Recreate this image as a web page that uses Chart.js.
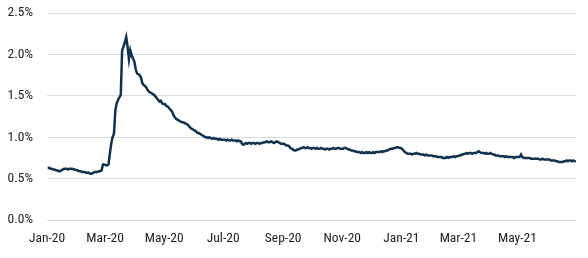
<!DOCTYPE html>
<html>
<head>
<meta charset="utf-8">
<script src="https://cdn.jsdelivr.net/npm/chart.js@4"></script>
<style>
html,body{margin:0;padding:0;background:#fff;}
#wrap{width:588px;height:258px;position:relative;}
</style>
</head>
<body>
<div id="wrap"><canvas id="c" width="588" height="258"></canvas></div>
<script>
// Monthly blocks of daily (business-day) values, in %
const jan20 = [0.63,0.63,0.62,0.62,0.61,0.61,0.60,0.60,0.59,0.59,0.60,0.61,0.62,0.62,0.62,0.61,0.62,0.62,0.62,0.61,0.61,0.60];
const feb20 = [0.60,0.59,0.59,0.58,0.58,0.58,0.57,0.57,0.57,0.56,0.56,0.57,0.58,0.58,0.58,0.59,0.59,0.60,0.67,0.67];
const mar20 = [0.66,0.66,0.67,0.80,0.92,1.00,1.04,1.32,1.41,1.45,1.48,1.51,2.05,2.09,2.15,2.21,2.09,1.94,2.05,1.99,1.95,1.91];
const apr20 = [1.82,1.77,1.76,1.75,1.72,1.65,1.63,1.62,1.60,1.57,1.55,1.54,1.53,1.52,1.51,1.49,1.47,1.45,1.43,1.44,1.41,1.40];
const may20 = [1.40,1.38,1.37,1.35,1.33,1.31,1.27,1.24,1.22,1.21,1.20,1.19,1.18,1.18,1.17,1.16,1.15,1.13,1.11,1.10,1.09];
const jun20 = [1.08,1.07,1.05,1.05,1.04,1.03,1.02,1.01,1.00,1.00,0.99,1.00,0.99,0.98,0.99,0.98,0.98,0.98,0.97,0.98,0.97,0.97];
const jul20 = [0.97,0.97,0.96,0.97,0.96,0.96,0.97,0.96,0.96,0.96,0.95,0.96,0.95,0.95,0.92,0.91,0.92,0.93,0.92,0.93,0.93,0.92,0.93];
const aug20 = [0.93,0.92,0.93,0.93,0.92,0.93,0.93,0.94,0.94,0.95,0.94,0.94,0.95,0.94,0.93,0.94,0.95,0.94,0.93,0.92,0.92];
const sep20 = [0.92,0.91,0.90,0.90,0.89,0.87,0.86,0.85,0.84,0.84,0.85,0.85,0.86,0.87,0.87,0.88,0.87,0.87,0.88,0.87,0.87,0.86];
const oct20 = [0.87,0.87,0.86,0.87,0.86,0.86,0.87,0.86,0.86,0.85,0.86,0.86,0.85,0.86,0.86,0.87,0.86,0.86,0.87,0.87,0.86,0.86];
const nov20 = [0.86,0.87,0.87,0.86,0.85,0.85,0.84,0.84,0.83,0.83,0.82,0.82,0.82,0.81,0.82,0.81,0.81,0.82,0.81,0.82,0.81];
const dec20 = [0.81,0.82,0.81,0.82,0.82,0.82,0.82,0.83,0.82,0.83,0.83,0.84,0.84,0.85,0.86,0.86,0.86,0.87,0.87,0.88,0.88,0.87,0.87];
const jan21 = [0.86,0.84,0.82,0.81,0.80,0.80,0.80,0.79,0.80,0.80,0.81,0.80,0.80,0.79,0.79,0.79,0.78,0.79,0.78,0.78,0.78];
const feb21 = [0.78,0.77,0.77,0.77,0.76,0.76,0.76,0.76,0.75,0.75,0.75,0.76,0.75,0.76,0.76,0.76,0.77,0.76,0.77,0.77];
const mar21 = [0.78,0.78,0.79,0.79,0.80,0.80,0.81,0.80,0.81,0.81,0.80,0.81,0.81,0.81,0.82,0.83,0.82,0.81,0.81,0.81,0.80,0.81,0.80];
const apr21 = [0.80,0.81,0.80,0.79,0.79,0.78,0.78,0.78,0.77,0.77,0.77,0.77,0.76,0.77,0.76,0.76,0.76,0.76,0.76,0.75,0.76,0.76];
const may21 = [0.76,0.76,0.79,0.76,0.75,0.75,0.75,0.75,0.75,0.74,0.74,0.74,0.74,0.74,0.74,0.73,0.73,0.74,0.73,0.73,0.73];
const jun21 = [0.73,0.73,0.72,0.72,0.72,0.72,0.71,0.71,0.70,0.70,0.70,0.70,0.71,0.71,0.72,0.71,0.72,0.72,0.71,0.72,0.71,0.71];

const monthBlocks = [jan20,feb20,mar20,apr20,may20,jun20,jul20,aug20,sep20,oct20,nov20,dec20,jan21,feb21,mar21,apr21,may21,jun21];

const tickLabels = ['Jan-20','Mar-20','May-20','Jul-20','Sep-20','Nov-20','Jan-21','Mar-21','May-21'];
const tickMonthOffsets = [0,2,4,6,8,10,12,14,16];
const yTicks = [0,0.5,1.0,1.5,2.0,2.5];

const DAY = 86400000;
const T0 = Date.UTC(2020,0,1);
function dayOf(y,m){ return (Date.UTC(y,m,1)-T0)/DAY; }

const points = [];
monthBlocks.forEach((vals, k) => {
  const s = dayOf(2020, k), e = dayOf(2020, k+1);
  const n = vals.length;
  vals.forEach((v,i) => points.push({x: s + (i+0.5)*(e-s)/n, y: v}));
});
const tickDays = tickMonthOffsets.map(m => dayOf(2020, m));
const xMax = dayOf(2020, 18) - 0.5;

const FONT = "'Roboto Condensed','Liberation Sans Narrow','DejaVu Sans Condensed',sans-serif";

new Chart(document.getElementById('c'), {
  type: 'line',
  data: {
    datasets: [{
      data: points,
      borderColor: '#11324d',
      borderWidth: 2.5,
      pointRadius: 0,
      tension: 0,
      fill: false
    }]
  },
  options: {
    responsive: false,
    animation: false,
    events: [],
    layout: { padding: { top: 13, right: 12, bottom: 0, left: 0 } },
    plugins: { legend: { display: false }, tooltip: { enabled: false } },
    scales: {
      x: {
        type: 'linear',
        min: 0,
        max: xMax,
        afterBuildTicks: (s) => { s.ticks = tickDays.map(v => ({value: v})); },
        afterFit: (s) => { s.height = 38; s.paddingLeft = 0; s.paddingRight = 0; },
        grid: { display: false, drawTicks: false },
        border: { display: false },
        ticks: {
          autoSkip: false,
          maxRotation: 0,
          padding: 11,
          color: '#222',
          font: { family: FONT, size: 13.5 },
          callback: (v) => { const i = tickDays.indexOf(v); return i >= 0 ? tickLabels[i] : ''; }
        }
      },
      y: {
        min: 0,
        max: 2.5,
        afterBuildTicks: (s) => { s.ticks = yTicks.map(v => ({value: v})); },
        afterFit: (s) => { s.width = 47; s.paddingTop = 0; s.paddingBottom = 0; },
        grid: { color: '#d3dde6', lineWidth: 1, drawTicks: false },
        border: { display: false },
        ticks: {
          padding: 14,
          color: '#222',
          font: { family: FONT, size: 13.5 },
          callback: (v) => v.toFixed(1) + '%'
        }
      }
    }
  }
});
</script>
</body>
</html>
